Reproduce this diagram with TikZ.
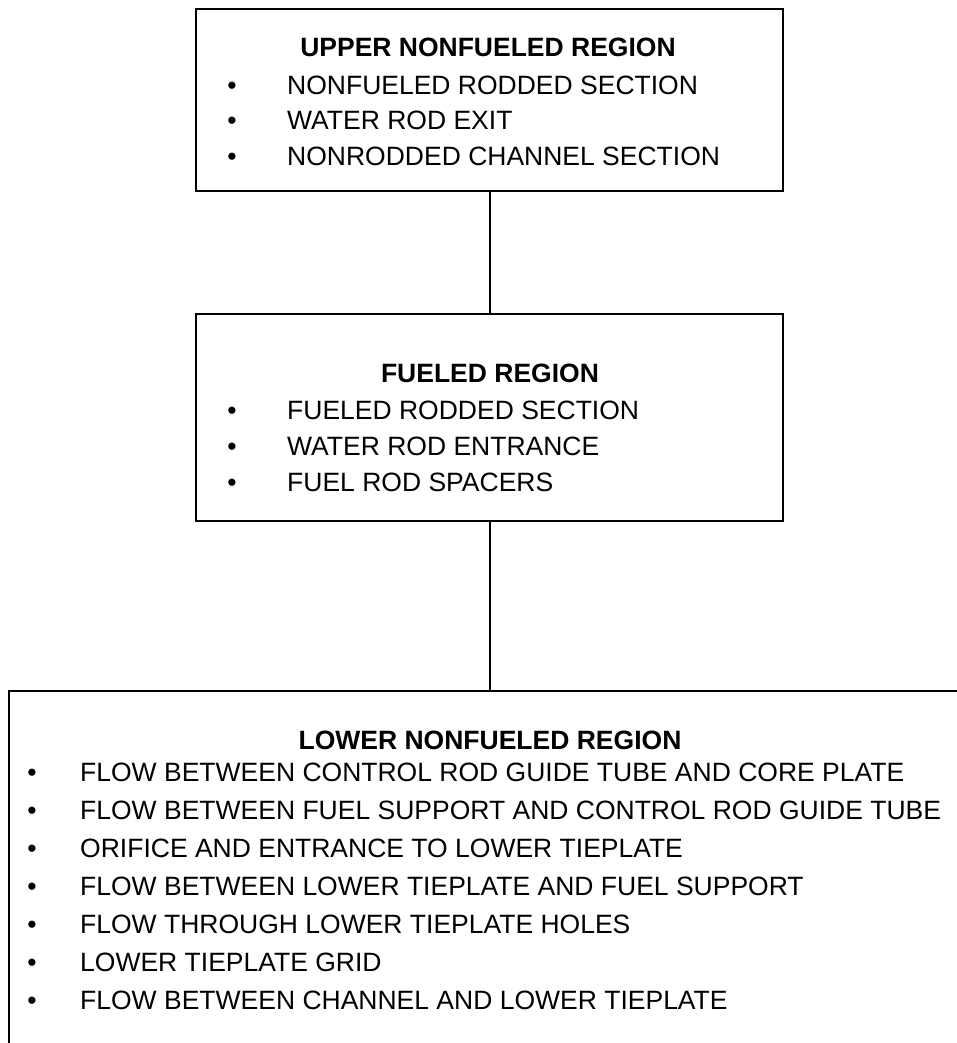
\documentclass[tikz,border=0pt]{standalone}
\usepackage{fontspec}
\setmainfont{Liberation Sans}
\usetikzlibrary{positioning}

\tikzset{
  regionbox/.style={draw=black, line width=2.4pt, rectangle, inner sep=0pt},
  regiontitle/.style={inner sep=0pt, anchor=base, font=\fontsize{26.5}{30}\selectfont\bfseries},
  itemtext/.style={inner sep=0pt, anchor=base west, font=\fontsize{26.5}{30}\selectfont},
  itembullet/.style={inner sep=0pt, anchor=base, font=\fontsize{26.5}{30}\selectfont}
}

\begin{document}
\begin{tikzpicture}[x=1pt, y=-1pt]
\useasboundingbox (0,0) rectangle (957,1043);
\clip (0,0) rectangle (957,1043);

% boxes
\node[regionbox, minimum width=587pt, minimum height=182pt, anchor=north west] (upper) at (195,8) {};
\node[regionbox, minimum width=587pt, minimum height=207pt, anchor=north west] (fueled) at (195,313) {};
\node[regionbox, minimum width=1000pt, minimum height=420pt, anchor=north west] (lower) at (8,690) {};

\draw[line width=2pt] (upper.south) -- (fueled.north);
\draw[line width=2pt] (fueled.south) -- (fueled.south |- lower.north);

% upper nonfueled region
\node[regiontitle] (uppertitle) at (488,57) {UPPER NONFUELED REGION};
\node[itembullet] (ub1) at (232,95) {\textbullet};
\node[itemtext] (ui1) at (287,95) {NONFUELED RODDED SECTION};
\node[itembullet] (ub2) at (232,130) {\textbullet};
\node[itemtext] (ui2) at (287,130) {WATER ROD EXIT};
\node[itembullet] (ub3) at (232,166) {\textbullet};
\node[itemtext] (ui3) at (287,166) {NONRODDED CHANNEL SECTION};

% fueled region
\node[regiontitle] (fueledtitle) at (490,382) {FUELED REGION};
\node[itembullet] (fb1) at (232,419) {\textbullet};
\node[itemtext] (fi1) at (287,419) {FUELED RODDED SECTION};
\node[itembullet] (fb2) at (232,455) {\textbullet};
\node[itemtext] (fi2) at (287,455) {WATER ROD ENTRANCE};
\node[itembullet] (fb3) at (232,491) {\textbullet};
\node[itemtext] (fi3) at (287,491) {FUEL ROD SPACERS};

% lower nonfueled region
\node[regiontitle] (lowertitle) at (490,749) {LOWER NONFUELED REGION};
\node[itembullet] (lb1) at (32,781) {\textbullet};
\node[itemtext] (li1) at (80,781) {FLOW BETWEEN CONTROL ROD GUIDE TUBE AND CORE PLATE};
\node[itembullet] (lb2) at (32,819) {\textbullet};
\node[itemtext] (li2) at (80,819) {FLOW BETWEEN FUEL SUPPORT AND CONTROL ROD GUIDE TUBE};
\node[itembullet] (lb3) at (32,857) {\textbullet};
\node[itemtext] (li3) at (80,857) {ORIFICE AND ENTRANCE TO LOWER TIEPLATE};
\node[itembullet] (lb4) at (32,895) {\textbullet};
\node[itemtext] (li4) at (80,895) {FLOW BETWEEN LOWER TIEPLATE AND FUEL SUPPORT};
\node[itembullet] (lb5) at (32,933) {\textbullet};
\node[itemtext] (li5) at (80,933) {FLOW THROUGH LOWER TIEPLATE HOLES};
\node[itembullet] (lb6) at (32,971) {\textbullet};
\node[itemtext] (li6) at (80,971) {LOWER TIEPLATE GRID};
\node[itembullet] (lb7) at (32,1009) {\textbullet};
\node[itemtext] (li7) at (80,1009) {FLOW BETWEEN CHANNEL AND LOWER TIEPLATE};

\end{tikzpicture}
\end{document}
